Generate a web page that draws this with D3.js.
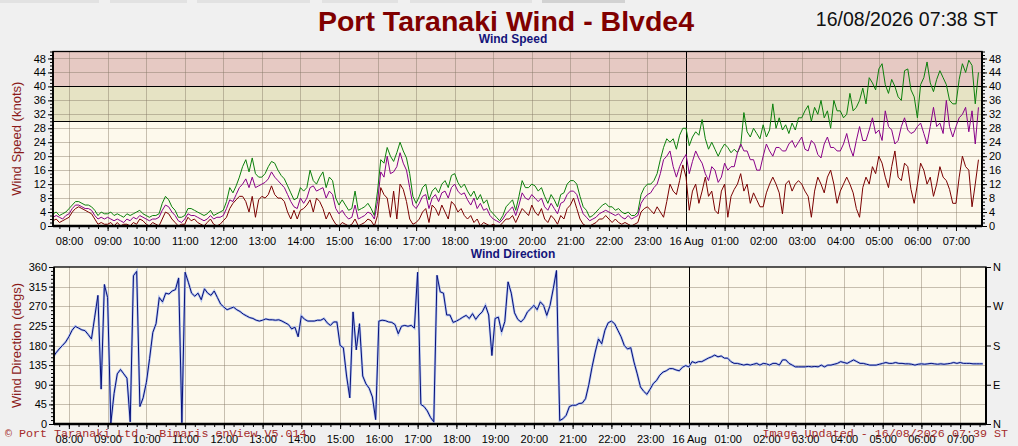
<!DOCTYPE html>
<html>
<head>
<meta charset="utf-8">
<script src="https://cdnjs.cloudflare.com/ajax/libs/d3/7.8.5/d3.min.js"></script>
<style>
body { margin: 0; background: #f0f0f0; }
svg { display: block; font-family: "Liberation Sans", Arial, sans-serif; }
</style>
</head>
<body>
<script>
var startTime = new Date(2026, 7, 15, 7, 35)
var stepMinutes = 5

// knots, one row per hour (first row 07:35-07:55, last row 07:00-07:35)
var gust = [
  3.5, 4, 3, 3.5, 4,
  5, 6, 7, 7, 6.5, 6, 6, 5.5, 4.5, 3, 4, 3.5,
  3.5, 4, 3, 3.5, 3, 2.5, 3.5, 3, 3.5, 4, 4.5, 3.5,
  3, 2.5, 3, 3, 3.5, 6.5, 8.5, 7.5, 5.5, 4.5, 2.5, 2.5,
  3, 5, 5, 4.5, 4, 3.5, 3, 3.5, 4.5, 3, 3.5, 4,
  4.5, 7, 11, 9.5, 11.5, 14, 17, 19, 15.5, 19.5, 15, 14,
  14, 15, 17, 18.5, 18, 16, 14.5, 13.5, 11.5, 9.5, 7.5, 8,
  11, 10, 11, 16, 13, 12, 14, 15.5, 11, 14, 13, 8,
  6, 7.5, 6, 4.5, 5, 10, 4.5, 5, 5.5, 6.5, 5, 3,
  10, 19, 18, 22.5, 20, 18.5, 21, 24, 21.5, 19.5, 15, 8.5,
  6.5, 8.5, 11, 12, 7.5, 10, 11, 9.5, 12, 13, 11, 14.5,
  15, 12.5, 11, 12, 10, 8.5, 10, 7.5, 9, 6.5, 7.5, 4.5,
  3.5, 2.5, 1.5, 3, 5.5, 6.5, 7.5, 4.5, 8.5, 13, 11, 11,
  12, 11.5, 10, 11, 8.5, 6.5, 9, 7.5, 5.5, 9, 9.5, 12,
  13, 13, 12, 8.5, 5.5, 4.5, 2.5, 3, 4, 5, 6, 6.5,
  5.5, 5.5, 4.5, 5, 4, 3.5, 4, 3, 3, 4, 9, 11,
  12, 12, 13, 15, 19, 22.5, 25, 24, 25, 22, 26, 28,
  28, 23, 25.5, 27, 26, 30.5, 25, 22, 24, 22, 20, 22,
  23.5, 22.5, 21, 22, 21, 23, 32.5, 27, 25.5, 28, 26.5, 25,
  29, 25.5, 27.5, 35, 28, 31, 27.5, 29, 26.5, 29.5, 27.5, 31,
  31, 33, 34.5, 30, 34, 32, 36, 31, 33, 28, 36, 33,
  33, 31, 32, 38, 33, 34, 36, 39.5, 35, 42.5, 41, 39,
  45, 46.5, 40.5, 38, 42, 40, 37, 36, 44.5, 45, 39, 37,
  31, 40.5, 42.5, 47, 41, 38.5, 42, 44.5, 42.5, 40.5, 36, 35,
  35, 42, 46.5, 44, 47.5, 46, 35, 44
]

var mean = [
  2.5, 3, 2.5, 2, 3,
  3.5, 5, 6, 6, 5.5, 5, 5, 4.5, 3, 2, 2.5, 2,
  2.5, 2, 1.5, 2, 1.5, 1, 2, 1.5, 2.5, 2, 3, 2.5,
  2, 1.5, 2, 2, 2.5, 4.5, 6, 5.5, 4, 3, 1.5, 1,
  2, 3.5, 3, 3, 2.5, 2, 1.5, 2, 3, 2, 2.5, 2.5,
  3, 5, 7.5, 7, 9, 11, 12, 13.5, 11, 14, 11, 11.5,
  12, 12.5, 13.5, 15.5, 14, 13, 12, 11, 9, 7, 5.5, 5,
  8, 6.5, 8, 11, 11.5, 10, 10.5, 11, 8, 10, 9, 5,
  3.5, 4.5, 3, 2, 2.5, 6, 2, 2.5, 3, 4, 3.5, 2,
  7, 15.5, 14, 20, 15, 15.5, 17, 21, 18, 16, 11, 6,
  5, 6.5, 8.5, 9, 5, 8, 9, 7, 9.5, 10, 8, 11,
  12, 10, 9, 9.5, 7.5, 6, 8, 5, 6.5, 4.5, 5, 3,
  2, 1.5, 1, 2, 3.5, 4.5, 5.5, 3, 6, 9.5, 8, 7.5,
  9, 8, 7, 8, 5.5, 4.5, 6.5, 5, 3.5, 6.5, 7, 9,
  10, 10, 9, 6, 3.5, 2.5, 1.5, 2, 2.5, 3.5, 4, 4.5,
  4, 3.5, 3, 3.5, 2.5, 2, 3, 2, 2.5, 3, 6.5, 8,
  9, 9.5, 11, 12, 15, 19, 20, 21.5, 17, 14, 17, 19,
  20.5, 15, 18.5, 21.5, 19.5, 18, 15, 13, 17, 16, 12.5, 14,
  18, 16, 17, 17, 21, 23.5, 21.5, 21.5, 19, 19, 16, 16,
  20, 23.5, 21.5, 20, 22.5, 22.5, 21.5, 21.5, 23.5, 24.5, 22.5, 24,
  25.5, 22, 21.5, 24.5, 23.5, 20.5, 19.5, 23.5, 25.5, 22.5, 22.5, 21.5,
  21.5, 23.5, 26.5, 22.5, 20, 24.5, 28.5, 24.5, 24.5, 27.5, 31, 26.5,
  27.5, 24.5, 33, 28.5, 27.5, 23.5, 24.5, 28.5, 31, 27.5, 26.5, 27,
  28.5, 29.5, 26.5, 23.5, 28.5, 34, 28.5, 29.5, 26.5, 36, 28.5, 25.5,
  28.5, 31, 32, 34, 27, 33, 23.5, 34
]

var lull = [
  1.5, 2, 1, 1.5, 2,
  2.5, 4, 5, 5.5, 5, 4.5, 4, 3.5, 2, 0.5, 1, 0.5,
  0.5, 1, 0, 1, 0, 0.5, 0.5, 0, 1, 0.5, 2, 1.5,
  0.5, 0, 1, 0.5, 0, 2, 4, 3.5, 2, 1, 0, 0.5,
  0.5, 2.5, 1.5, 2, 1, 0.5, 0, 1, 2, 0.5, 0, 0.5,
  1.5, 2.5, 5, 6.5, 7.5, 8.5, 8.5, 7, 4, 8.5, 2.5, 7.5,
  8.5, 8, 9, 11.5, 9, 8, 8, 7, 4, 2, 4.5, 2,
  4.5, 5, 6, 7.5, 4, 8, 7, 5, 2, 4, 2, 0.5,
  0, 1, 0.5, 0, 0.5, 2, 0, 0.5, 1, 2, 1.5, 0,
  3, 11, 9, 8, 2.5, 10, 2, 12, 10.5, 7, 2, 0.5,
  1, 2, 4, 5, 1, 6, 5, 3, 6, 4, 2, 7,
  6, 4, 5, 3, 2, 3, 1, 2, 0, 1, 0.5, 0,
  0.5, 0, 0, 1, 2, 2, 3, 1, 3, 5, 4, 3,
  6, 4, 3, 5, 2, 1, 3, 2, 0.5, 3, 2, 5,
  6, 8, 5, 2, 0.5, 0, 0, 0.5, 1, 2, 2, 3,
  2, 1, 2, 1, 0.5, 1, 0.5, 0, 0.5, 1, 4, 5,
  5.5, 4.5, 3.5, 5.5, 4, 2.5, 7, 12, 10, 9, 13, 17.5,
  14, 4.5, 10, 12, 6.5, 10, 14, 8.5, 10, 4.5, 3.5, 10,
  12, 2.5, 8.5, 10.5, 12, 15, 10, 12, 6.5, 9.5, 7.5, 5.5,
  5.5, 9.5, 12, 14, 12, 9.5, 3.5, 12, 13, 10, 12, 13,
  12, 10, 8.5, 2.5, 10, 14, 12, 9.5, 14, 16, 12, 6.5,
  10, 12, 14, 12, 9.5, 5, 2.5, 11, 14, 12, 17, 15,
  20, 18, 14, 11, 17, 21.5, 14, 13, 18, 17, 10.5, 6.5,
  12, 18, 16, 12, 14, 8.5, 12, 17, 14, 13, 10.5, 6.5,
  6.5, 14, 20, 17, 16, 5.5, 12, 19
]

// degrees
var direction = [
  152, 163, 172, 180, 188,
  200, 215, 224, 220, 216, 214, 205, 195, 245, 295, 80, 320,
  290, 2, 70, 115, 125, 115, 105, 5, 340, 350, 40, 60,
  95, 150, 210, 230, 290, 280, 300, 298, 305, 308, 335, 3,
  348, 325, 300, 293, 300, 285, 310, 300, 295, 305, 290, 275,
  268, 262, 265, 268, 262, 258, 252, 248, 244, 242, 238, 236,
  238, 241, 239, 239, 238, 239, 236, 232, 228, 218, 222, 200,
  248, 240, 236, 236, 236, 238, 238, 242, 232, 226, 234, 234,
  180, 175, 110, 60, 257, 170, 230, 110, 92, 82, 62, 10,
  236, 238, 237, 234, 233, 228, 207, 224, 226, 224, 226, 220,
  348, 45, 40, 30, 15, 5, 341, 303, 300, 250, 250, 233,
  236, 240, 245, 249, 242, 253, 240, 250, 257, 272, 250, 157,
  242, 245, 211, 235, 326, 300, 255, 240, 234, 242, 257, 264,
  272, 262, 280, 272, 249, 272, 310, 352, 8, 12, 20, 40,
  43, 43, 47, 48, 58, 90, 130, 165, 195, 184, 215, 232,
  236, 230, 215, 200, 180, 172, 175, 142, 115, 85, 75, 68,
  80, 93, 100, 112, 119, 122, 127, 127, 124, 122, 130, 134,
  131, 143, 140, 143, 143, 147, 151, 154, 158, 154, 156, 151,
  151, 143, 139, 139, 137, 135, 137, 135, 137, 139, 135, 139,
  138, 135, 139, 139, 135, 147, 147, 139, 135, 131, 131, 131,
  131, 132, 131, 132, 131, 135, 131, 135, 135, 137, 139, 143,
  141, 139, 143, 147, 143, 139, 139, 137, 135, 135, 135, 137,
  139, 141, 139, 139, 141, 139, 139, 138, 138, 137, 135, 137,
  138, 137, 138, 139, 138, 137, 138, 137, 138, 139, 141, 139,
  141, 139, 139, 139, 138, 138, 138, 138
]

var speedTicks = d3.range(0, 49, 4)
var zoneLimits = [30, 40, 50]
var dirTicks = d3.range(0, 361, 45)
var compassTicks = [0, 90, 180, 270, 360]
var compassLabels = ['N', 'E', 'S', 'W', 'N']

var timeAt = function (i) { return new Date(startTime.getTime() + i * stepMinutes * 60000) }
var hourLabel = function (d) {
  return d.getHours() === 0 ? d3.timeFormat("%-d %b")(d) : d3.timeFormat("%H:%M")(d)
}

var svg = d3.select("body").append("svg")
  .attr("width", 1018)
  .attr("height", 446)

// window tabs along the top edge
var tabs = [[0, 99], [110, 187], [197, 310], [322, 398], [410, 532], [542, 625]]
svg.selectAll("rect.tab").data(tabs).enter().append("rect")
  .attr("class", "tab")
  .attr("x", function (d) { return d[0] })
  .attr("y", 0)
  .attr("width", function (d) { return d[1] - d[0] })
  .attr("height", 3)
  .attr("fill", function (d, i) { return i === 5 ? "#d2d2d2" : "#e2e2e2" })

svg.append("text")
  .attr("x", 506).attr("y", 31)
  .attr("text-anchor", "middle")
  .attr("font-size", 28.5).attr("font-weight", "bold")
  .attr("fill", "#800000")
  .text("Port Taranaki Wind - Blvde4")

svg.append("text")
  .attr("x", 998).attr("y", 26)
  .attr("text-anchor", "end")
  .attr("font-size", 19.5)
  .attr("fill", "#111")
  .text("16/08/2026 07:38 ST")

var sb = {left: 53, right: 982, top: 51.5, bottom: 226}
var db = {left: 54, right: 986, top: 267, bottom: 424}

var xs = d3.scaleTime()
  .domain([new Date(2026, 7, 15, 7, 35), new Date(2026, 7, 16, 7, 40, 30)])
  .range([sb.left, sb.right])
var ys = d3.scaleLinear().domain([0, 50]).range([sb.bottom, sb.top])
var xd = d3.scaleTime()
  .domain([new Date(2026, 7, 15, 7, 37), new Date(2026, 7, 16, 7, 40)])
  .range([db.left, db.right])
var yd = d3.scaleLinear().domain([0, 360]).range([db.bottom, db.top])

var defs = svg.append("defs")
defs.append("clipPath").attr("id", "clipS").append("rect")
  .attr("x", sb.left).attr("y", sb.top).attr("width", sb.right - sb.left).attr("height", sb.bottom - sb.top)
defs.append("clipPath").attr("id", "clipD").append("rect")
  .attr("x", db.left).attr("y", db.top).attr("width", db.right - db.left).attr("height", db.bottom - db.top)

var cream = "#fdf9ec"
var gridColor = "#857866"

// ---- wind speed panel
var sp = svg.append("g")
sp.append("rect")
  .attr("x", sb.left).attr("y", sb.top)
  .attr("width", sb.right - sb.left).attr("height", sb.bottom - sb.top)
  .attr("fill", cream)
var zoneColors = ["#e6e3c4", "#e6c9c3"]
sp.selectAll("rect.zone").data(d3.range(zoneLimits.length - 1)).enter().append("rect")
  .attr("class", "zone")
  .attr("x", sb.left)
  .attr("y", function (i) { return ys(zoneLimits[i + 1]) })
  .attr("width", sb.right - sb.left)
  .attr("height", function (i) { return ys(zoneLimits[i]) - ys(zoneLimits[i + 1]) })
  .attr("fill", function (i) { return zoneColors[i] })

var hoursS = xs.ticks(d3.timeHour.every(1))
sp.selectAll("line.vg").data(hoursS).enter().append("line")
  .attr("x1", function (d) { return Math.round(xs(d)) + 0.5 })
  .attr("x2", function (d) { return Math.round(xs(d)) + 0.5 })
  .attr("y1", sb.top).attr("y2", sb.bottom)
  .attr("stroke", function (d) { return d.getHours() === 0 ? "#000" : gridColor })
  .attr("stroke-opacity", function (d) { return d.getHours() === 0 ? 1 : 0.45 })
sp.selectAll("line.hg").data(speedTicks.slice(1)).enter().append("line")
  .attr("x1", sb.left).attr("x2", sb.right)
  .attr("y1", function (d) { return Math.round(ys(d)) + 0.5 })
  .attr("y2", function (d) { return Math.round(ys(d)) + 0.5 })
  .attr("stroke", gridColor).attr("stroke-opacity", 0.45)
sp.selectAll("line.zl").data(zoneLimits.slice(0, 2)).enter().append("line")
  .attr("x1", sb.left).attr("x2", sb.right)
  .attr("y1", function (d) { return Math.round(ys(d)) + 0.5 })
  .attr("y2", function (d) { return Math.round(ys(d)) + 0.5 })
  .attr("stroke", "#000").attr("stroke-width", 1.2)

var speedLine = d3.line()
  .x(function (d, i) { return xs(timeAt(i)) })
  .y(function (d) { return ys(d) })
var seriesS = [[gust, "#0b7f0b"], [mean, "#880088"], [lull, "#7a0000"]]
sp.append("g").attr("clip-path", "url(#clipS)")
  .selectAll("path").data(seriesS).enter().append("path")
  .attr("d", function (s) { return speedLine(s[0]) })
  .attr("fill", "none")
  .attr("stroke", function (s) { return s[1] })
  .attr("stroke-width", 1)

sp.append("rect")
  .attr("x", sb.left).attr("y", sb.top)
  .attr("width", sb.right - sb.left).attr("height", sb.bottom - sb.top)
  .attr("fill", "none").attr("stroke", "#000").attr("stroke-width", 1.3)
sp.append("line").attr("x1", sb.left).attr("x2", sb.right).attr("y1", sb.bottom).attr("y2", sb.bottom)
  .attr("stroke", "#000").attr("stroke-width", 2.6)
sp.append("line").attr("x1", sb.right).attr("x2", sb.right).attr("y1", sb.top).attr("y2", sb.bottom)
  .attr("stroke", "#000").attr("stroke-width", 2)
sp.append("line").attr("x1", sb.left).attr("x2", sb.left).attr("y1", sb.top).attr("y2", sb.bottom)
  .attr("stroke", "#000").attr("stroke-width", 1.8)

var styleAxis = function (g) {
  g.select(".domain").remove()
  g.selectAll("line").attr("stroke", "#000")
  g.selectAll("text").attr("font-size", 11)
    .attr("font-family", "'Liberation Sans', Arial, sans-serif").attr("fill", "#000")
}

sp.append("g").attr("transform", "translate(" + sb.left + ",0)")
  .call(d3.axisLeft(ys).tickValues(d3.range(0, 51, 1)).tickSize(3).tickFormat(""))
  .call(styleAxis)
sp.append("g").attr("transform", "translate(" + sb.left + ",0)")
  .call(d3.axisLeft(ys).tickValues(speedTicks).tickSize(5).tickPadding(2))
  .call(styleAxis)
sp.append("g").attr("transform", "translate(" + sb.right + ",0)")
  .call(d3.axisRight(ys).tickValues(d3.range(0, 51, 1)).tickSize(3).tickFormat(""))
  .call(styleAxis)
sp.append("g").attr("transform", "translate(" + sb.right + ",0)")
  .call(d3.axisRight(ys).tickValues(speedTicks).tickSize(5).tickPadding(2))
  .call(styleAxis)
sp.append("g").attr("transform", "translate(0," + sb.bottom + ")")
  .call(d3.axisBottom(xs).ticks(d3.timeMinute.every(15)).tickSize(3).tickFormat(""))
  .call(styleAxis)
sp.append("g").attr("transform", "translate(0," + sb.bottom + ")")
  .call(d3.axisBottom(xs).ticks(d3.timeHour.every(1)).tickSize(5).tickPadding(6).tickFormat(hourLabel))
  .call(styleAxis)

svg.append("text")
  .attr("transform", "translate(21," + (sb.top + sb.bottom) / 2 + ") rotate(-90)")
  .attr("text-anchor", "middle")
  .attr("font-size", 13).attr("fill", "#8b1a1a")
  .text("Wind Speed (knots)")
svg.append("text")
  .attr("x", 513).attr("y", 43)
  .attr("text-anchor", "middle")
  .attr("font-size", 12).attr("font-weight", "bold").attr("fill", "#14147a")
  .text("Wind Speed")

// ---- wind direction panel
var dp = svg.append("g")
dp.append("rect")
  .attr("x", db.left).attr("y", db.top)
  .attr("width", db.right - db.left).attr("height", db.bottom - db.top)
  .attr("fill", cream)
var hoursD = xd.ticks(d3.timeHour.every(1))
dp.selectAll("line.vg").data(hoursD).enter().append("line")
  .attr("x1", function (d) { return Math.round(xd(d)) + 0.5 })
  .attr("x2", function (d) { return Math.round(xd(d)) + 0.5 })
  .attr("y1", db.top).attr("y2", db.bottom)
  .attr("stroke", function (d) { return d.getHours() === 0 ? "#000" : gridColor })
  .attr("stroke-opacity", function (d) { return d.getHours() === 0 ? 1 : 0.45 })
dp.selectAll("line.hg").data(dirTicks.slice(1, -1)).enter().append("line")
  .attr("x1", db.left).attr("x2", db.right)
  .attr("y1", function (d) { return Math.round(yd(d)) + 0.5 })
  .attr("y2", function (d) { return Math.round(yd(d)) + 0.5 })
  .attr("stroke", gridColor).attr("stroke-opacity", 0.45)

var dirLine = d3.line()
  .x(function (d, i) { return xd(timeAt(i)) })
  .y(function (d) { return yd(d) })
var dg = dp.append("g").attr("clip-path", "url(#clipD)")
dg.append("path").attr("d", dirLine(direction))
  .attr("fill", "none").attr("stroke", "#b3c3ee").attr("stroke-width", 2.4)
dg.append("path").attr("d", dirLine(direction))
  .attr("fill", "none").attr("stroke", "#06107a").attr("stroke-width", 1)

dp.append("rect")
  .attr("x", db.left).attr("y", db.top)
  .attr("width", db.right - db.left).attr("height", db.bottom - db.top)
  .attr("fill", "none").attr("stroke", "#000").attr("stroke-width", 1.3)
dp.append("line").attr("x1", db.left).attr("x2", db.right).attr("y1", db.bottom).attr("y2", db.bottom)
  .attr("stroke", "#000").attr("stroke-width", 2.6)
dp.append("line").attr("x1", db.right).attr("x2", db.right).attr("y1", db.top).attr("y2", db.bottom)
  .attr("stroke", "#000").attr("stroke-width", 2)
dp.append("line").attr("x1", db.left).attr("x2", db.left).attr("y1", db.top).attr("y2", db.bottom)
  .attr("stroke", "#000").attr("stroke-width", 1.8)

dp.append("g").attr("transform", "translate(" + db.left + ",0)")
  .call(d3.axisLeft(yd).tickValues(d3.range(0, 361, 9)).tickSize(3).tickFormat(""))
  .call(styleAxis)
dp.append("g").attr("transform", "translate(" + db.left + ",0)")
  .call(d3.axisLeft(yd).tickValues(dirTicks).tickSize(5).tickPadding(2))
  .call(styleAxis)
dp.append("g").attr("transform", "translate(" + db.right + ",0)")
  .call(d3.axisRight(yd).tickValues(compassTicks).tickSize(5).tickPadding(2)
    .tickFormat(function (d, i) { return compassLabels[i] }))
  .call(styleAxis)
dp.append("g").attr("transform", "translate(0," + db.bottom + ")")
  .call(d3.axisBottom(xd).ticks(d3.timeMinute.every(15)).tickSize(3).tickFormat(""))
  .call(styleAxis)
dp.append("g").attr("transform", "translate(0," + db.bottom + ")")
  .call(d3.axisBottom(xd).ticks(d3.timeHour.every(1)).tickSize(5).tickPadding(6).tickFormat(hourLabel))
  .call(styleAxis)

svg.append("text")
  .attr("transform", "translate(21," + (db.top + db.bottom) / 2 + ") rotate(-90)")
  .attr("text-anchor", "middle")
  .attr("font-size", 13).attr("fill", "#8b1a1a")
  .text("Wind Direction (degs)")
svg.append("text")
  .attr("x", 513).attr("y", 258)
  .attr("text-anchor", "middle")
  .attr("font-size", 12).attr("font-weight", "bold").attr("fill", "#14147a")
  .text("Wind Direction")

svg.append("text")
  .attr("x", 5).attr("y", 437)
  .attr("font-family", "'Liberation Mono', 'Courier New', monospace")
  .attr("font-size", 11.7).attr("fill", "#a52a2a")
  .text("\u00a9 Port Taranaki Ltd - Bimaris enView V5.014")
svg.append("text")
  .attr("x", 1008).attr("y", 437)
  .attr("text-anchor", "end")
  .attr("font-family", "'Liberation Mono', 'Courier New', monospace")
  .attr("font-size", 11.7).attr("fill", "#a52a2a")
  .text("Image Updated - 16/08/2026 07:39 ST")
</script>
</body>
</html>
